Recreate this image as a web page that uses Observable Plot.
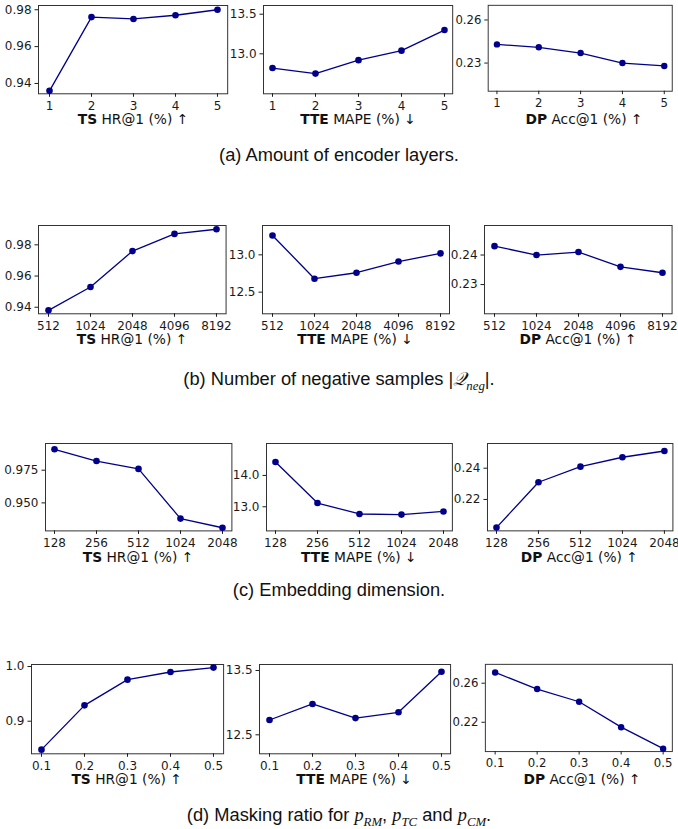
<!DOCTYPE html>
<html><head><meta charset="utf-8">
<script src="https://cdn.jsdelivr.net/npm/d3@7"></script>
<script src="https://cdn.jsdelivr.net/npm/@observablehq/plot@0.6"></script>
<style>
body{margin:0;background:#fff;}
#root{position:relative;width:678px;height:829px;overflow:hidden;background:#fff;}
.panel{position:absolute;}
.xlabel{position:absolute;font-family:"DejaVu Sans";font-size:13.8px;color:#111;white-space:nowrap;transform:translate(-50%,-50%);}
.caption{position:absolute;left:0;width:678px;text-align:center;font-family:"Liberation Sans",Arial,sans-serif;font-size:18.3px;color:#111;transform:translateY(-50%);white-space:nowrap;}
.m{font-family:"Liberation Serif",serif;font-style:italic;}
sub{font-size:70%;}
</style></head><body><div id="root"></div>
<script>
// x categories (tick labels)
const layersX = ["1","2","3","4","5"];
const negX    = ["512","1024","2048","4096","8192"];
const dimX    = ["128","256","512","1024","2048"];
const maskX   = ["0.1","0.2","0.3","0.4","0.5"];

// (a) encoder layers
const layersTS  = [0.936, 0.976, 0.975, 0.977, 0.980];
const layersTTE = [12.82, 12.75, 12.92, 13.04, 13.30];
const layersDP  = [0.243, 0.241, 0.237, 0.230, 0.228];
// (b) negative samples
const negTS  = [0.938, 0.953, 0.976, 0.987, 0.990];
const negTTE = [13.26, 12.68, 12.76, 12.91, 13.02];
const negDP  = [0.243, 0.240, 0.241, 0.236, 0.234];
// (c) embedding dimension
const dimTS  = [0.991, 0.982, 0.976, 0.938, 0.931];
const dimTTE = [14.43, 13.12, 12.77, 12.75, 12.85];
const dimDP  = [0.202, 0.231, 0.241, 0.247, 0.251];
// (d) masking ratio
const maskTS  = [0.848, 0.929, 0.976, 0.990, 0.998];
const maskTTE = [12.73, 12.98, 12.76, 12.85, 13.48];
const maskDP  = [0.271, 0.254, 0.241, 0.215, 0.193];

// y tick labels
const ticksA = [[0.94,0.96,0.98],[13.0,13.5],[0.23,0.26]];
const ticksB = [[0.94,0.96,0.98],[12.5,13.0],[0.23,0.24]];
const ticksC = [[0.950,0.975],[13.0,14.0],[0.22,0.24]];
const ticksD = [[0.9,1.0],[12.5,13.5],[0.22,0.26]];

const xlabels = [
  ["TS"," HR@1 (%) ↑"],
  ["TTE"," MAPE (%) ↓"],
  ["DP"," Acc@1 (%) ↑"]
];

// layout / axis limits
const rows = [
  {xs: layersX, series:[layersTS,layersTTE,layersDP], ticks: ticksA, fmt:[".2f",".1f",".2f"],
   lim:[[0.9344,0.9823],[12.495,13.61],[0.2104,0.2702]],
   fx:[[38.4,227.6],[263.4,452.6],[489.4,678.6]], fy:[5,93.3]},
  {xs: negX, series:[negTS,negTTE,negDP], ticks: ticksB, fmt:[".2f",".1f",".2f"],
   lim:[[0.9358,0.9924],[12.21,13.393],[0.2201,0.25]],
   fx:[[38.2,225.8],[261.5,448.5],[484.2,671.8]], fy:[225,313.3]},
  {xs: dimX, series:[dimTS,dimTTE,dimDP], ticks: ticksC, fmt:[".3f",".1f",".2f"],
   lim:[[0.9286,0.9954],[12.23,15.02],[0.1999,0.2558]],
   fx:[[44.8,231.2],[265.9,451.8],[486.6,672.1]], fy:[443.3,530.7]},
  {xs: maskX, series:[maskTS,maskTTE,maskDP], ticks: ticksD, fmt:[".1f",".1f",".2f"],
   lim:[[0.8404,1.0037],[12.205,13.593],[0.19,0.2793]],
   fx:[[30.6,222.7],[258.6,449.7],[486.3,677.7]], fy:[664,753.3]}
];

const captions = [
  {y:155, html:'(a) Amount of encoder layers.'},
  {y:381, html:'(b) Number of negative samples |<span class="m">𝒬</span><sub class="m">neg</sub>|.'},
  {y:590, html:'(c) Embedding dimension.'},
  {y:817, html:'(d) Masking ratio for <span class="m">p</span><sub class="m">RM</sub>, <span class="m">p</span><sub class="m">TC</sub> and <span class="m">p</span><sub class="m">CM</sub>.'}
];

const root = document.getElementById("root");
const mL=48, mR=6, mT=6, mB=30;

rows.forEach(row => {
  row.series.forEach((ys, j) => {
    const [x0,x1] = row.fx[j], [y0,y1] = row.fy;
    const data = row.xs.map((x,i)=>({x, y: ys[i]}));
    const svg = Plot.plot({
      width: (x1-x0)+mL+mR, height: (y1-y0)+mT+mB,
      marginLeft:mL, marginRight:mR, marginTop:mT, marginBottom:mB,
      style:{fontFamily:"DejaVu Sans", fontSize:"12px", color:"#1a1a1a", background:"transparent", overflow:"visible"},
      x:{type:"point", domain: row.xs, padding:0.2},
      y:{domain: row.lim[j]},
      marks:[
        Plot.frame({stroke:"#333", strokeWidth:1}),
        Plot.axisX({tickSize:3.5, tickPadding:4, label:null}),
        Plot.axisY({ticks: row.ticks[j], tickFormat: d3.format(row.fmt[j]), tickSize:3.5, tickPadding:3.5, label:null}),
        Plot.line(data,{x:"x", y:"y", stroke:"#00008b", strokeWidth:1.3}),
        Plot.dot(data,{x:"x", y:"y", fill:"#00008b", r:3.3})
      ]
    });
    const wrap = document.createElement("div");
    wrap.className = "panel";
    wrap.style.left = (x0-mL)+"px";
    wrap.style.top = (y0-mT)+"px";
    wrap.appendChild(svg);
    root.appendChild(wrap);
    const lab = document.createElement("div");
    lab.className = "xlabel";
    lab.style.left = ((x0+x1)/2)+"px";
    lab.style.top = (y1+26)+"px";
    const b = document.createElement("b"); b.textContent = xlabels[j][0];
    lab.appendChild(b);
    lab.appendChild(document.createTextNode(xlabels[j][1]));
    root.appendChild(lab);
  });
});

captions.forEach(c => {
  const d = document.createElement("div");
  d.className = "caption";
  d.style.top = c.y+"px";
  d.innerHTML = c.html;
  root.appendChild(d);
});
</script></body></html>
